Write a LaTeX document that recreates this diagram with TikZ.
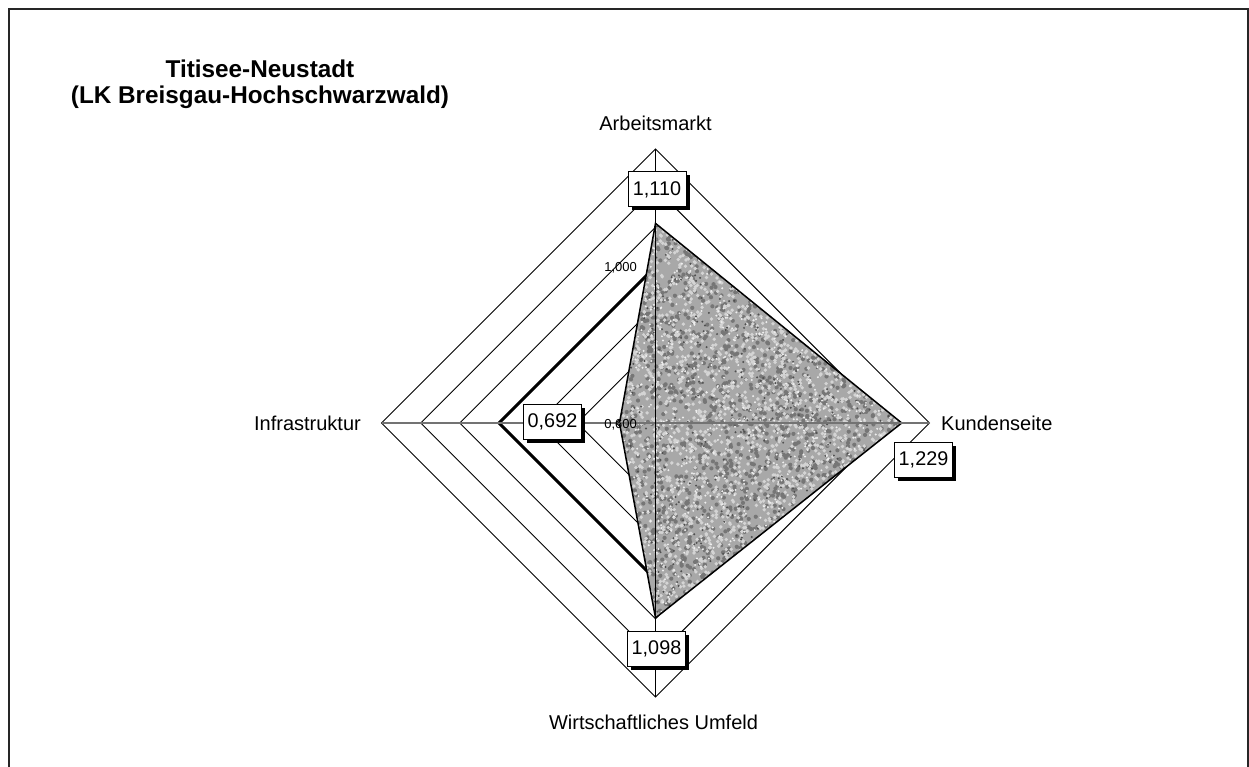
\documentclass[tikz,border=0pt]{standalone}
\usepackage{fontspec}
\setmainfont{Liberation Sans}
\usetikzlibrary{shadows}

\definecolor{granite}{HTML}{A8A8A8}
\definecolor{granitedark}{HTML}{767676}
\definecolor{granitelight}{HTML}{D4D4D4}
\definecolor{granitedeep}{HTML}{505050}
\definecolor{granitewhite}{HTML}{EEEEEE}

\tikzset{
  ring/.style={draw=black, line width=0.9},
  refline/.style={draw=black, line width=3, line join=miter},
  dataline/.style={draw=black, line width=1.5, line join=miter},
  axisv/.style={draw=black, line width=1},
  axish/.style={draw=black!55, line width=1.4},
  titletext/.style={font=\bfseries\fontsize{24.3}{28}\selectfont, anchor=base, inner sep=0},
  catlabel/.style={font=\fontsize{20}{24}\selectfont, inner sep=0},
  ticklabel/.style={font=\fontsize{13}{15}\selectfont, inner sep=0, anchor=base east},
  valbox/.style={draw=black, line width=1, fill=white, minimum width=58, minimum height=35,
    inner sep=0, font=\fontsize{19.8}{23}\selectfont,
    drop shadow={shadow xshift=3.5pt, shadow yshift=-3.5pt, fill=black, opacity=1}},
}

\begin{document}
\begin{tikzpicture}[x=1pt, y=-1pt]
  \useasboundingbox (0,0) rectangle (1249,767);
  \fill[white] (0,0) rectangle (1249,767);

  % outer frame (open at the bottom)
  \draw[black!85, line width=2] (9,770) -- (9,9) -- (1248,9) -- (1248,770);

  % chart centre and scale: 0.6 at the centre, 1.3 at the outer ring
  \def\cx{655.5}
  \def\cy{423}
  \def\unit{391.43}
  \coordinate (C) at (\cx,\cy);

  % title
  \node[titletext] (title1) at (260,77.5) {Titisee-Neustadt};
  \node[titletext] (title2) at (260,103.5) {(LK Breisgau-Hochschwarzwald)};

  % grid rings every 0.1
  \foreach \k in {1,2,3,5,6,7} {
    \pgfmathsetmacro{\r}{\k*274/7}
    \draw[ring] (\cx,\cy-\r) -- (\cx+\r,\cy) -- (\cx,\cy+\r) -- (\cx-\r,\cy) -- cycle;
  }

  % reference series at 1,000
  \pgfmathsetmacro{\rr}{0.4*\unit}
  \draw[refline] (\cx,\cy-\rr) -- (\cx+\rr,\cy) -- (\cx,\cy+\rr) -- (\cx-\rr,\cy) -- cycle;

  % data series
  \pgfmathsetmacro{\ra}{(1.110-0.6)*\unit}
  \pgfmathsetmacro{\rk}{(1.229-0.6)*\unit}
  \pgfmathsetmacro{\rw}{(1.098-0.6)*\unit}
  \pgfmathsetmacro{\ri}{(0.692-0.6)*\unit}
  \coordinate (pA) at (\cx,\cy-\ra);
  \coordinate (pK) at (\cx+\rk,\cy);
  \coordinate (pW) at (\cx,\cy+\rw);
  \coordinate (pI) at (\cx-\ri,\cy);

  % granite-like texture inside the data area
  \begin{scope}
    \clip (pA) -- (pK) -- (pW) -- (pI) -- cycle;
    \fill[granite] (615,218) rectangle (905,622);
    \pgfmathsetseed{4711}
    \foreach \b in {1,...,15} {
      \fill[granitedark] foreach \i in {1,...,150} { ({616+288*rnd},{219+402*rnd}) circle (2.1) };
    }
    \foreach \b in {1,...,20} {
      \fill[granitelight] foreach \i in {1,...,150} { ({616+288*rnd},{219+402*rnd}) circle (1.9) };
    }
    \foreach \b in {1,...,4} {
      \fill[granitedeep] foreach \i in {1,...,150} { ({616+288*rnd},{219+402*rnd}) circle (1.1) };
    }
    \foreach \b in {1,...,8} {
      \fill[granitewhite] foreach \i in {1,...,150} { ({616+288*rnd},{219+402*rnd}) circle (1.1) };
    }
  \end{scope}
  \draw[dataline] (pA) -- (pK) -- (pW) -- (pI) -- cycle;

  % axes
  \coordinate (aTop) at (\cx,\cy-274);
  \coordinate (aBot) at (\cx,\cy+274);
  \coordinate (aLeft) at (\cx-274,\cy);
  \coordinate (aRight) at (\cx+274,\cy);
  \draw[axish] (aLeft) -- (aRight);
  \draw[axisv] (aTop) -- (aBot);

  % tick labels
  \node[ticklabel] (t1000) at (637,271) {1,000};
  \node[ticklabel] (t600) at (637,428) {0,600};

  % category labels
  \node[catlabel, anchor=base] (cA) at (\cx,131) {Arbeitsmarkt};
  \node[catlabel, anchor=base west] (cK) at (941,430.5) {Kundenseite};
  \node[catlabel, anchor=base] (cW) at (653.5,729.3) {Wirtschaftliches Umfeld};
  \node[catlabel, anchor=base east] (cI) at (361,430.5) {Infrastruktur};

  % value labels
  \node[valbox] (vA) at (657,189.5) {1,110};
  \node[valbox] (vI) at (552.5,421.5) {0,692};
  \node[valbox] (vK) at (923.5,460) {1,229};
  \node[valbox] (vW) at (656.5,648.5) {1,098};
\end{tikzpicture}
\end{document}
